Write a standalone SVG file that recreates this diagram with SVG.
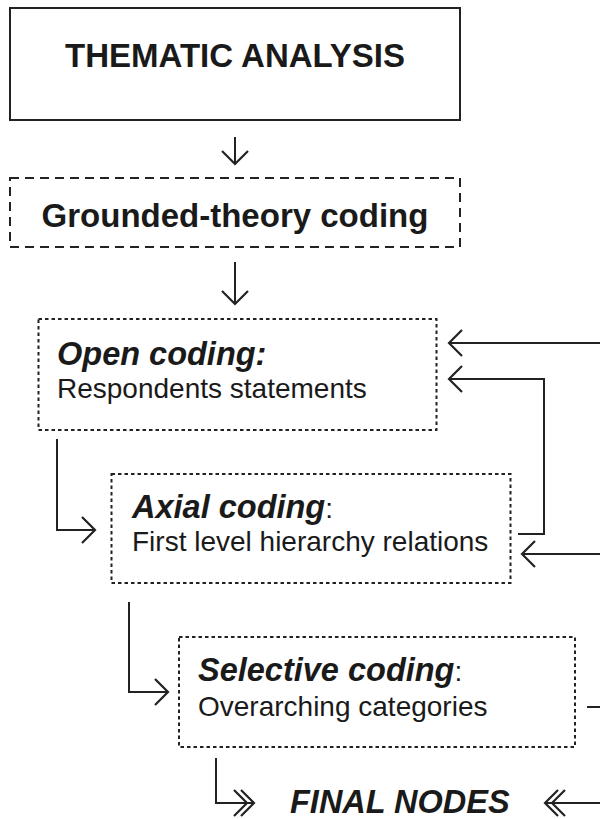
<svg xmlns="http://www.w3.org/2000/svg" width="600" height="819" viewBox="0 0 600 819">
<defs>
<style>
.box{fill:#fff;stroke:#222;stroke-width:2}
.dash{fill:#fff;stroke:#222;stroke-width:2;stroke-dasharray:9 6}
.dot{fill:#fff;stroke:#222;stroke-width:2;stroke-dasharray:3.5 3}
.ln{fill:none;stroke:#222;stroke-width:2}
.t{font-family:"Liberation Sans",Arial,sans-serif;fill:#1a1a1a}
.b{font-weight:bold;font-size:33px}
.bi{font-weight:bold;font-style:italic;font-size:32.5px}
.r{font-size:28px}
</style>
<marker id="ch" markerUnits="userSpaceOnUse" markerWidth="40" markerHeight="40" viewBox="-20 -20 40 40" refX="0" refY="0" orient="auto">
<path d="M-13,-13 L0,0 L-13,13" fill="none" stroke="#222" stroke-width="2.2"/>
</marker>
<marker id="dch" markerUnits="userSpaceOnUse" markerWidth="40" markerHeight="40" viewBox="-30 -20 40 40" refX="0" refY="0" orient="auto">
<path d="M-13,-13 L0,0 L-13,13 M-20,-13 L-7,0 L-20,13" fill="none" stroke="#222" stroke-width="2.2"/>
</marker>
</defs>
<rect width="600" height="819" fill="#fff"/>
<g id="connectors">
<line class="ln" x1="235" y1="137" x2="235" y2="164" marker-end="url(#ch)"/>
<line class="ln" x1="235" y1="262" x2="235" y2="304" marker-end="url(#ch)"/>
<line class="ln" x1="600" y1="343" x2="449" y2="343" marker-end="url(#ch)"/>
<polyline class="ln" points="518,534 544,534 544,379 449,379" marker-end="url(#ch)"/>
<line class="ln" x1="600" y1="554" x2="522" y2="554" marker-end="url(#ch)"/>
<polyline class="ln" points="57,439 57,530 95,530" marker-end="url(#ch)"/>
<polyline class="ln" points="129,602 129,692 168,692" marker-end="url(#ch)"/>
<line class="ln" x1="587" y1="707" x2="600" y2="707"/>
<polyline class="ln" points="216,758 216,803 254,803" marker-end="url(#dch)"/>
<line class="ln" x1="600" y1="803" x2="545" y2="803" marker-end="url(#dch)"/>
</g>
<g id="thematic">
<rect class="box" x="10" y="8" width="450" height="112"/>
<text class="t b" x="235" y="67" text-anchor="middle">THEMATIC ANALYSIS</text>
</g>
<g id="grounded">
<rect class="dash" x="10" y="178" width="450" height="69"/>
<text class="t b" x="235" y="227" text-anchor="middle">Grounded-theory coding</text>
</g>
<g id="open">
<rect class="dot" x="38.5" y="319" width="398" height="111"/>
<text class="t bi" x="57" y="365">Open coding:</text>
<text class="t r" x="57" y="398">Respondents statements</text>
</g>
<g id="axial">
<rect class="dot" x="111.5" y="474" width="399" height="109"/>
<text class="t" x="132" y="518"><tspan class="bi">Axial coding</tspan><tspan class="r">:</tspan></text>
<text class="t r" x="132" y="551">First level hierarchy relations</text>
</g>
<g id="selective">
<rect class="dot" x="179" y="637" width="396" height="110"/>
<text class="t" x="198" y="681"><tspan class="bi">Selective coding</tspan><tspan class="r">:</tspan></text>
<text class="t r" x="198" y="716">Overarching categories</text>
</g>
<g id="final">
<text class="t bi" x="290" y="813">FINAL NODES</text>
</g>
</svg>
